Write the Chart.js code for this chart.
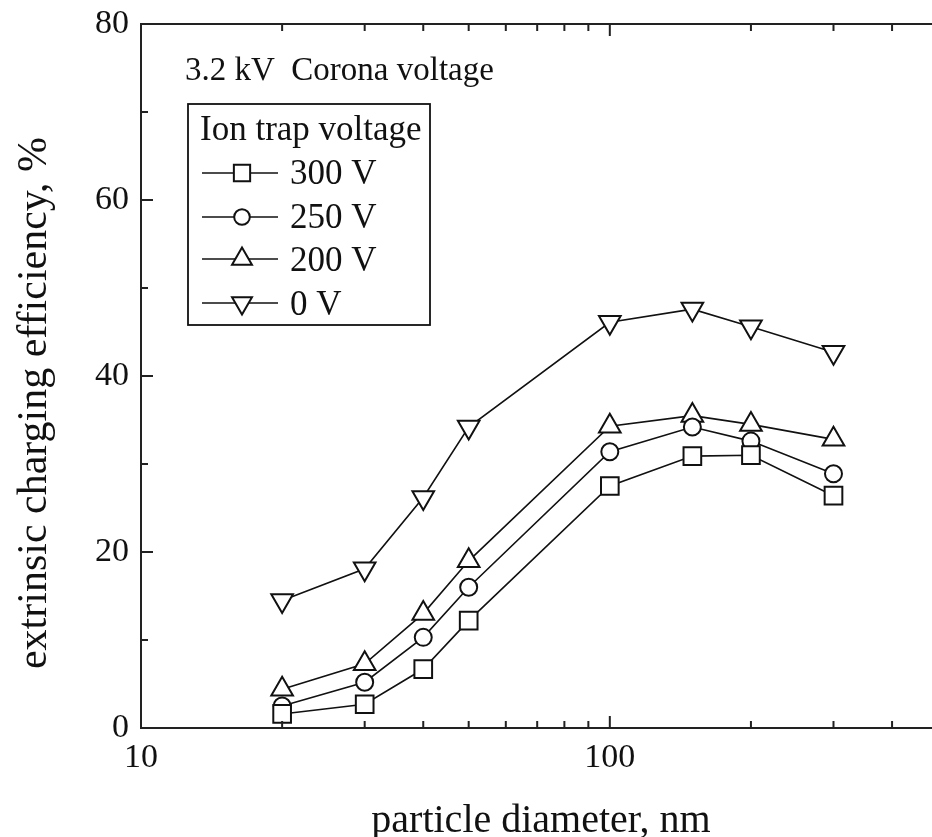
<!DOCTYPE html>
<html>
<head>
<meta charset="utf-8">
<script src="https://cdn.jsdelivr.net/npm/chart.js@4"></script>
<style>
  html, body { margin: 0; padding: 0; background: #fff; overflow: hidden; }
</style>
</head>
<body>
<canvas id="chart" width="952" height="837"></canvas>
<script>
const diameters = [20, 30, 40, 50, 100, 150, 200, 300];
const trap300 = [1.6, 2.7, 6.7, 12.2, 27.5, 30.9, 31.0, 26.4];
const trap250 = [2.5, 5.2, 10.3, 16.0, 31.4, 34.2, 32.6, 28.9];
const trap200 = [4.4, 7.3, 13.0, 19.0, 34.3, 35.5, 34.5, 32.8];
const trap0 = [14.5, 18.1, 26.2, 34.2, 46.1, 47.6, 45.6, 42.7];
const seriesLabels = ["300 V", "250 V", "200 V", "0 V"];
const xTickLabels = [10, 100];
const xMinorTicks = [20, 30, 40, 50, 60, 70, 80, 90, 200, 300, 400];
const yTickLabels = [0, 20, 40, 60, 80];
const yMinorTicks = [10, 30, 50, 70];

const FONT = "'Liberation Serif', 'DejaVu Serif', serif";

function pts(vals) {
  return diameters.map((d, i) => ({ x: d, y: vals[i] }));
}

function ds(label, vals, style, radius, rot) {
  return {
    label: label,
    data: pts(vals),
    borderColor: "#111",
    borderWidth: 1.6,
    pointStyle: style,
    pointRadius: radius,
    pointRotation: rot || 0,
    pointBackgroundColor: "#fff",
    pointBorderColor: "#111",
    pointBorderWidth: 2,
    tension: 0,
  };
}

const frame = {
  id: "frame",
  afterDraw(chart) {
    const { ctx, chartArea: a, scales } = chart;
    const x = scales.x, y = scales.y;
    ctx.save();
    ctx.strokeStyle = "#222";
    ctx.lineWidth = 2;
    ctx.strokeRect(a.left, a.top, a.right - a.left, a.bottom - a.top);
    ctx.beginPath();
    xTickLabels.forEach(v => {
      const px = x.getPixelForValue(v);
      ctx.moveTo(px, a.bottom); ctx.lineTo(px, a.bottom - 12);
      ctx.moveTo(px, a.top); ctx.lineTo(px, a.top + 12);
    });
    xMinorTicks.forEach(v => {
      const px = x.getPixelForValue(v);
      ctx.moveTo(px, a.bottom); ctx.lineTo(px, a.bottom - 7);
      ctx.moveTo(px, a.top); ctx.lineTo(px, a.top + 7);
    });
    yTickLabels.forEach(v => {
      const py = y.getPixelForValue(v);
      ctx.moveTo(a.left, py); ctx.lineTo(a.left + 12, py);
    });
    yMinorTicks.forEach(v => {
      const py = y.getPixelForValue(v);
      ctx.moveTo(a.left, py); ctx.lineTo(a.left + 7, py);
    });
    ctx.stroke();

    // axis titles
    ctx.fillStyle = "#111";
    ctx.textBaseline = "alphabetic";
    ctx.textAlign = "center";
    ctx.font = "40px " + FONT;
    ctx.fillText("particle diameter, nm", 541, 832);
    ctx.save();
    ctx.translate(46, 403);
    ctx.rotate(-Math.PI / 2);
    ctx.font = "42px " + FONT;
    ctx.fillText("extrinsic charging efficiency, %", 0, 0);
    ctx.restore();

    // annotation and legend
    ctx.textAlign = "left";
    ctx.font = "33px " + FONT;
    ctx.fillText("3.2 kV  Corona voltage", 185, 80);

    ctx.strokeStyle = "#111";
    ctx.lineWidth = 1.8;
    ctx.strokeRect(188, 104, 242, 221);
    ctx.font = "35px " + FONT;
    ctx.fillText("Ion trap voltage", 200, 140);
    const rows = [173, 217, 259, 303];
    const bases = [184, 228, 271, 315];
    chart.data.datasets.forEach((d, i) => {
      const yy = rows[i];
      ctx.strokeStyle = "#111";
      ctx.lineWidth = 1.6;
      ctx.beginPath();
      ctx.moveTo(202, yy); ctx.lineTo(278, yy);
      ctx.stroke();
      ctx.fillStyle = "#fff";
      ctx.lineWidth = 2;
      Chart.helpers.drawPoint(ctx, {
        pointStyle: d.pointStyle,
        radius: d.pointRadius * 0.92,
        rotation: d.pointRotation,
        borderWidth: 2,
      }, 242, yy);
      ctx.fillStyle = "#111";
      ctx.fillText(seriesLabels[i], 290, bases[i]);
    });
    ctx.restore();
  }
};

new Chart(document.getElementById("chart"), {
  type: "line",
  data: {
    datasets: [
      ds(seriesLabels[0], trap300, "rect", 12.5),
      ds(seriesLabels[1], trap250, "circle", 8.5),
      ds(seriesLabels[2], trap200, "triangle", 12.5),
      ds(seriesLabels[3], trap0, "triangle", 12.5, 180),
    ],
  },
  options: {
    responsive: false,
    animation: false,
    layout: { padding: { top: 24, right: 12, left: 0, bottom: 0 } },
    plugins: { legend: { display: false }, tooltip: { enabled: false } },
    scales: {
      x: {
        type: "logarithmic",
        min: 10,
        max: 500,
        afterBuildTicks(s) { s.ticks = xTickLabels.map(v => ({ value: v })); },
        afterFit(s) { s.height = 109; s.paddingLeft = 0; s.paddingRight = 0; },
        grid: { display: false, drawTicks: false },
        border: { display: false },
        ticks: {
          color: "#111",
          font: { family: FONT, size: 34 },
          padding: 10,
          maxRotation: 0,
          callback: v => String(v),
        },
      },
      y: {
        min: 0,
        max: 80,
        afterBuildTicks(s) { s.ticks = yTickLabels.map(v => ({ value: v })); },
        afterFit(s) { s.width = 141; s.paddingTop = 0; s.paddingBottom = 0; },
        grid: { display: false, drawTicks: false },
        border: { display: false },
        ticks: {
          color: "#111",
          font: { family: FONT, size: 34 },
          padding: 12,
        },
      },
    },
  },
  plugins: [frame],
});
</script>
</body>
</html>
